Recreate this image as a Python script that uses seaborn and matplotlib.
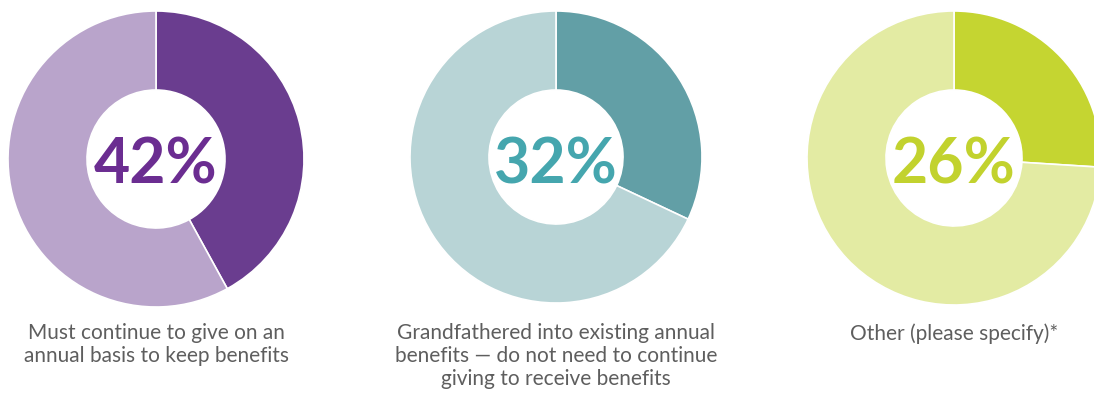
import matplotlib
matplotlib.use("Agg")
import matplotlib.pyplot as plt
import seaborn as sns

# share answering each option (percent), remainder is the rest of respondents
labels = [
    "Must continue to give on an\nannual basis to keep benefits",
    "Grandfathered into existing annual\nbenefits \u2014 do not need to continue\ngiving to receive benefits",
    "Other (please specify)*",
]
shares = [42, 32, 26]
dark_colors = ["#6A3D8F", "#629FA6", "#C5D531"]
light_colors = ["#B9A4CB", "#B8D4D6", "#E3EBA3"]
text_colors = ["#6B2D91", "#45A6AE", "#C2D22E"]

W, H = 1094, 394


def donut(ax, share, label, dark, light, txt, cx, cy, r, r_in):
    ax.pie(
        [share, 100 - share],
        colors=[dark, light],
        startangle=90,
        counterclock=False,
        center=(cx, H - cy),
        radius=r,
        wedgeprops=dict(width=r - r_in, edgecolor="white", linewidth=1.2),
    )
    ax.text(cx, H - 183, f"{share}%", ha="center", va="baseline",
            fontsize=45, fontweight="bold", color=txt, family="Lato")
    ax.text(cx, H - 323, label, ha="center", va="top", fontsize=15,
            fontweight="normal", color="#5E5E5E", family="Lato", linespacing=1.2)


def main():
    sns.set_theme(style="white")
    fig = plt.figure(figsize=(W / 100, H / 100), dpi=100)
    ax = fig.add_axes([0, 0, 1, 1])
    geom = [(156, 159, 148, 69), (556, 157, 146, 67), (954, 158, 147, 68)]
    for i in range(3):
        cx, cy, r, r_in = geom[i]
        donut(ax, shares[i], labels[i], dark_colors[i], light_colors[i],
              text_colors[i], cx, cy, r, r_in)
    ax.set_xlim(0, W)
    ax.set_ylim(0, H)
    ax.set_aspect("equal")
    ax.axis("off")
    fig.savefig("out.png", dpi=100, facecolor="white")


if __name__ == "__main__":
    main()
